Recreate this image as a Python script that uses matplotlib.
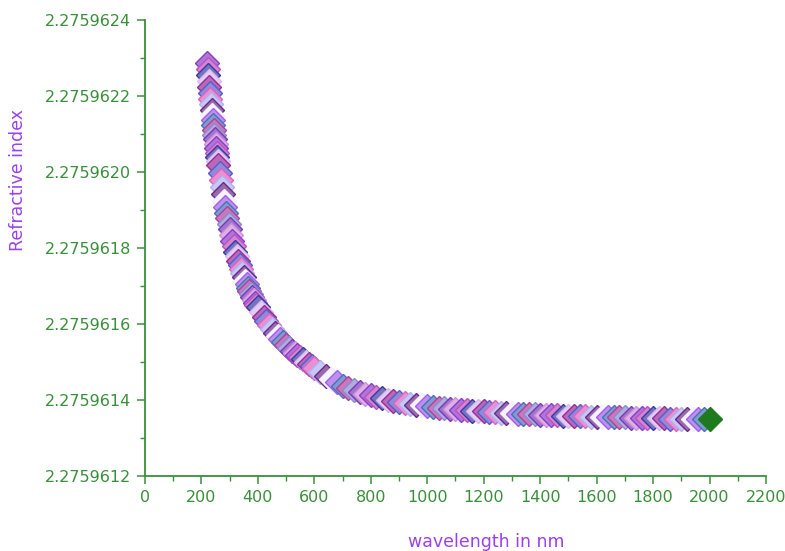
import matplotlib
matplotlib.use("Agg")
import matplotlib.pyplot as plt
from matplotlib.ticker import MultipleLocator, FormatStrFormatter
from matplotlib.colors import to_rgb

# Wavelength samples (nm)
wavelength_nm = [
    220, 222, 224, 226, 228, 230, 232, 234, 236, 238, 240, 242, 244, 246, 248,
    250, 252, 254, 256, 258, 260, 264, 268, 272, 276, 280, 284, 288, 292, 296,
    300, 305, 310, 315, 320, 325, 330, 335, 340, 345, 350, 355, 360, 365, 370,
    375, 380, 385, 390, 395, 400, 410, 420, 430, 440, 450, 460, 470, 480, 490,
    500, 510, 520, 530, 540, 550, 560, 570, 580, 590, 600, 620, 640, 660, 680,
    700, 720, 740, 760, 780, 800, 820, 840, 860, 880, 900, 920, 940, 960, 980,
    1000, 1020, 1040, 1060, 1080, 1100, 1120, 1140, 1160, 1180, 1200, 1220,
    1240, 1260, 1280, 1300, 1320, 1340, 1360, 1380, 1400, 1420, 1440, 1460,
    1480, 1500, 1520, 1540, 1560, 1580, 1600, 1620, 1640, 1660, 1680, 1700,
    1720, 1740, 1760, 1780, 1800, 1820, 1840, 1860, 1880, 1900, 1920, 1940,
    1960, 1980, 2000,
]

# Refractive index at each wavelength
refractive_index = [
    2.275962288, 2.275962271, 2.275962255, 2.275962239, 2.275962223,
    2.275962208, 2.275962193, 2.275962178, 2.275962164, 2.275962150,
    2.275962137, 2.275962124, 2.275962111, 2.275962098, 2.275962086,
    2.275962074, 2.275962062, 2.275962051, 2.275962040, 2.275962029,
    2.275962019, 2.275961998, 2.275961979, 2.275961960, 2.275961942,
    2.275961925, 2.275961908, 2.275961893, 2.275961878, 2.275961863,
    2.275961849, 2.275961833, 2.275961818, 2.275961804, 2.275961790,
    2.275961779, 2.275961766, 2.275961755, 2.275961744, 2.275961734,
    2.275961724, 2.275961714, 2.275961705, 2.275961696, 2.275961688,
    2.275961679, 2.275961672, 2.275961664, 2.275961656, 2.275961650,
    2.275961644, 2.275961631, 2.275961619, 2.275961608, 2.275961597,
    2.275961587, 2.275961577, 2.275961568, 2.275961560, 2.275961552,
    2.275961544, 2.275961537, 2.275961530, 2.275961524, 2.275961518,
    2.275961512, 2.275961507, 2.275961501, 2.275961495, 2.275961489,
    2.275961484, 2.275961474, 2.275961464, 2.275961456, 2.275961447,
    2.275961438, 2.275961432, 2.275961426, 2.275961421, 2.275961417,
    2.275961412, 2.275961408, 2.275961404, 2.275961401, 2.275961398,
    2.275961395, 2.275961392, 2.275961390, 2.275961388, 2.275961386,
    2.275961384, 2.275961382, 2.275961380, 2.275961379, 2.275961377,
    2.275961376, 2.275961375, 2.275961373, 2.275961372, 2.275961371,
    2.275961370, 2.275961369, 2.275961368, 2.275961367, 2.275961366,
    2.275961365, 2.275961364, 2.275961364, 2.275961363, 2.275961362,
    2.275961361, 2.275961361, 2.275961360, 2.275961360, 2.275961359,
    2.275961358, 2.275961358, 2.275961357, 2.275961357, 2.275961356,
    2.275961356, 2.275961355, 2.275961355, 2.275961355, 2.275961354,
    2.275961354, 2.275961353, 2.275961353, 2.275961353, 2.275961352,
    2.275961352, 2.275961352, 2.275961352, 2.275961351, 2.275961351,
    2.275961351, 2.275961350, 2.275961350, 2.275961350, 2.275961350,
    2.275961349,
]

x_ticks = [0, 200, 400, 600, 800, 1000, 1200, 1400, 1600, 1800, 2000, 2200]
y_ticks = [2.2759612, 2.2759614, 2.2759616, 2.2759618, 2.2759620,
           2.2759622, 2.2759624]

# Point colours cycle through this palette
palette = ["#8a3cc8", "#c050c0", "#3a3aa0", "#d8b8f0", "#9a2a9a", "#5a5ac8",
           "#e060c0", "#b0b0f0", "#6a2a8a", "#f4ecff", "#a060e8", "#4a70b8",
           "#b040a0", "#8a8ad0", "#7a3ab8", "#d090d8"]
last_colour = "#1e7a1e"

axis_green = "#3a8f3a"
label_violet = "#9a40f0"

plt.rcParams["font.family"] = ["DejaVu Sans"]

fig = plt.figure(figsize=(7.85, 5.51), dpi=100)
ax = fig.add_axes([0.1847, 0.1361, 0.7911, 0.8276])

n_pts = len(wavelength_nm)
edge_cols = [palette[i % len(palette)] for i in range(n_pts)]
edge_cols[-1] = last_colour


def lighten(c, f):
    r, g, b = to_rgb(c)
    return (r + (1 - r) * f, g + (1 - g) * f, b + (1 - b) * f)


face_cols = [lighten(c, 0.3) for c in edge_cols]
face_cols[-1] = last_colour

for i in range(n_pts):
    ax.plot(wavelength_nm[i], refractive_index[i], marker="D", markersize=12.5,
            markerfacecolor=face_cols[i], markeredgecolor=edge_cols[i],
            markeredgewidth=1.0, linestyle="none", zorder=3 + i * 0.001)

ax.set_xlim(0, 2200)
ax.set_ylim(2.2759612, 2.2759624)
ax.set_xticks(x_ticks)
ax.set_yticks(y_ticks)
ax.xaxis.set_minor_locator(MultipleLocator(100))
ax.yaxis.set_minor_locator(MultipleLocator(1e-7))
ax.yaxis.set_major_formatter(FormatStrFormatter("%.7f"))

for side in ("top", "right"):
    ax.spines[side].set_visible(False)
for side in ("left", "bottom"):
    ax.spines[side].set_color(axis_green)
    ax.spines[side].set_linewidth(1.3)

ax.tick_params(which="major", direction="out", length=6, width=1.1,
               color=axis_green, labelcolor=axis_green, labelsize=11.5, pad=4)
ax.tick_params(which="minor", direction="out", length=3.5, width=1.0,
               color=axis_green)

ax.set_xlabel("wavelength in nm", color=label_violet, fontsize=12.5)
ax.set_ylabel("Refractive index", color=label_violet, fontsize=12.5)
ax.xaxis.set_label_coords(0.55, -0.125)
ax.yaxis.set_label_coords(-0.19, 0.65)

fig.savefig("out.png", dpi=100)
